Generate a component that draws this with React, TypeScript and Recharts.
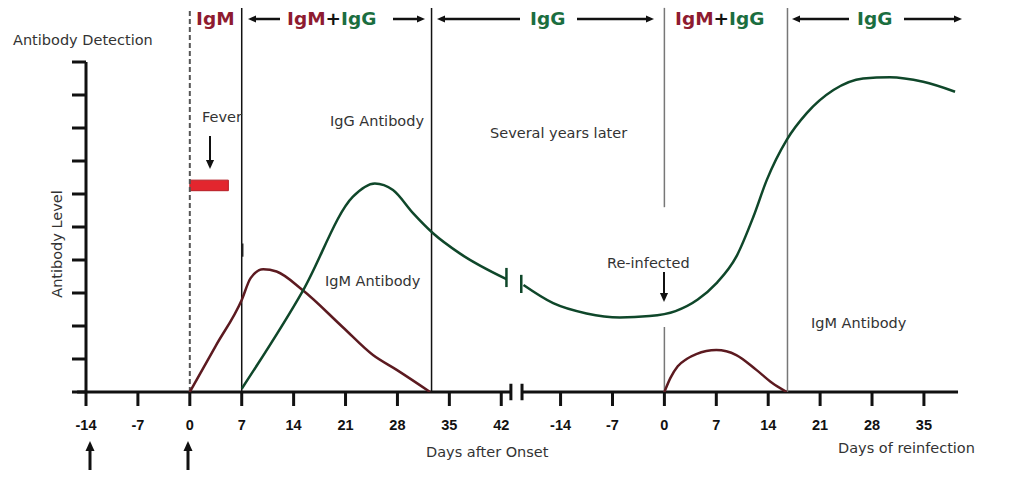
import { ComposedChart, Line, XAxis, YAxis, ReferenceLine, ReferenceArea } from "recharts";

/* ── x position: days after onset; reinfection period shifted by 64 ── */
const REINFECT_SHIFT = 64;

const X_TICKS = [-14, -7, 0, 7, 14, 21, 28, 35, 42, 50, 57, 64, 71, 78, 85, 92, 99];
const Y_TICKS = [0, 1, 2, 3, 4, 5, 6, 7, 8, 9, 10];

// primary infection (days after onset)
const IGM_PRIMARY_DAYS = [0, 3.5, 7, 8.2, 9.9, 11.7, 15.2, 20.6, 24.7, 27.9, 32.4];
const IGM_PRIMARY_LEVEL = [0, 1.4, 2.79, 3.45, 3.72, 3.65, 3.09, 1.97, 1.12, 0.67, 0];

const IGG_PRIMARY_DAYS = [7, 15.3, 22, 24.95, 27.4, 30.1, 32.8, 36.4, 42.7];
const IGG_PRIMARY_LEVEL = [0.1, 3.09, 5.92, 6.32, 6.12, 5.42, 4.81, 4.2, 3.42];

// reinfection (days of reinfection)
const IGG_REINFECT_DAYS = [-19, -15, -10.5, -6, -2, 1.5, 4.5, 7, 9.7, 12, 13.8, 16.5, 19.2, 22.8, 26.8, 30.4, 34.9, 39.2];
const IGG_REINFECT_LEVEL = [3.24, 2.69, 2.38, 2.26, 2.3, 2.45, 2.8, 3.29, 4.1, 5.31, 6.42, 7.64, 8.45, 9.15, 9.5, 9.54, 9.4, 9.1];

const IGM_REINFECT_DAYS = [0, 0.8, 1.8, 3, 4.3, 7, 9.7, 12.4, 14.5, 16.5];
const IGM_REINFECT_LEVEL = [0, 0.42, 0.78, 1.0, 1.15, 1.27, 1.12, 0.67, 0.28, 0];

// phase dividers (x positions) and fever bar
const DIVIDERS_PRIMARY = [7, 32.6];
const DIVIDERS_REINFECT = [0, 16.6];
const FEVER = { from: 0, to: 5.2, low: 6.1, high: 6.42 };

const IGM_COLOR = "#5c1a20";
const IGG_COLOR = "#0f472a";
const IGM_TEXT = "#8e1b30";
const IGG_TEXT = "#1b6e3f";
const FONT = "'DejaVu Sans', Verdana, sans-serif";
const TOP = 11.64;

function build(days: number[], levels: number[], shift = 0) {
  return days.map((d, i) => ({ u: d + shift, v: levels[i] }));
}

const igmPrimary = build(IGM_PRIMARY_DAYS, IGM_PRIMARY_LEVEL);
const iggPrimary = build(IGG_PRIMARY_DAYS, IGG_PRIMARY_LEVEL);
const iggReinfect = build(IGG_REINFECT_DAYS, IGG_REINFECT_LEVEL, REINFECT_SHIFT);
const igmReinfect = build(IGM_REINFECT_DAYS, IGM_REINFECT_LEVEL, REINFECT_SHIFT);

const tickLabel = (u: number) => String(u >= 50 ? u - REINFECT_SHIFT : u);

function Arrow({ x1, y1, x2, y2, w = 2.5, head = 8 }: { x1: number; y1: number; x2: number; y2: number; w?: number; head?: number }) {
  const a = Math.atan2(y2 - y1, x2 - x1);
  const bx = x2 - Math.cos(a) * head;
  const by = y2 - Math.sin(a) * head;
  const hw = head * 0.45;
  const px = -Math.sin(a) * hw;
  const py = Math.cos(a) * hw;
  return (
    <g>
      <line x1={x1} y1={y1} x2={bx} y2={by} stroke="#111" strokeWidth={w} />
      <polygon points={`${x2},${y2} ${bx + px},${by + py} ${bx - px},${by - py}`} fill="#111" />
    </g>
  );
}

function Overlay() {
  const small = { fontFamily: FONT, fontSize: 14.5, fill: "#333" };
  const head = { fontFamily: FONT, fontSize: 18.5, fontWeight: 700 };
  return (
    <svg width={1024} height={494} style={{ position: "absolute", left: 0, top: 0, pointerEvents: "none" }}>
      {/* header */}
      <text x={196} y={25} {...head} fill={IGM_TEXT}>IgM</text>
      <Arrow x1={280} y1={19} x2={248} y2={19} />
      <text x={287} y={25} {...head}>
        <tspan fill={IGM_TEXT}>IgM</tspan><tspan fill="#111">+</tspan><tspan fill={IGG_TEXT}>IgG</tspan>
      </text>
      <Arrow x1={393} y1={19} x2={425} y2={19} />
      <Arrow x1={520} y1={19} x2={437} y2={19} />
      <text x={530} y={25} {...head} fill={IGG_TEXT}>IgG</text>
      <Arrow x1={577} y1={19} x2={654} y2={19} />
      <text x={675} y={25} {...head}>
        <tspan fill={IGM_TEXT}>IgM</tspan><tspan fill="#111">+</tspan><tspan fill={IGG_TEXT}>IgG</tspan>
      </text>
      <Arrow x1={849} y1={19} x2={792} y2={19} />
      <text x={857} y={25} {...head} fill={IGG_TEXT}>IgG</text>
      <Arrow x1={904} y1={19} x2={962} y2={19} />

      {/* annotations */}
      <text x={13} y={45} {...small}>Antibody Detection</text>
      <text transform="translate(62,244) rotate(-90)" textAnchor="middle" {...small}>Antibody Level</text>
      <text x={202} y={122} {...small}>Fever</text>
      <Arrow x1={210} y1={136} x2={210} y2={169} w={2} head={9} />
      <text x={330} y={126} {...small}>IgG Antibody</text>
      <text x={325} y={286} {...small}>IgM Antibody</text>
      <text x={490} y={138} {...small}>Several years later</text>
      <text x={607} y={268} {...small}>Re-infected</text>
      <Arrow x1={664} y1={272} x2={664} y2={302} w={2} head={9} />
      <text x={811} y={328} {...small}>IgM Antibody</text>
      <text x={426} y={457} {...small}>Days after Onset</text>
      <text x={838} y={453} {...small}>Days of reinfection</text>
      <Arrow x1={90} y1={470} x2={90} y2={441} w={3} head={10} />
      <Arrow x1={188} y1={470} x2={188} y2={441} w={3} head={10} />
    </svg>
  );
}

export default function App() {
  return (
    <div style={{ position: "absolute", left: 0, top: 0, width: 1024, height: 494, background: "#fff" }}>
      <ComposedChart width={1024} height={494} margin={{ top: 62, right: 63, bottom: 0, left: 66 }}>
        <XAxis
          dataKey="u"
          type="number"
          domain={[-14, 104]}
          ticks={X_TICKS}
          tickFormatter={tickLabel}
          axisLine={false}
          tickLine={{ stroke: "#111", strokeWidth: 3 }}
          tickSize={14}
          tickMargin={14}
          height={102}
          interval={0}
          allowDataOverflow
          tick={{ fontFamily: "'Liberation Sans', Arial, sans-serif", fontWeight: 700, fontSize: 14.5, fill: "#111" }}
        />
        <YAxis
          type="number"
          domain={[0, 10]}
          ticks={Y_TICKS}
          width={20}
          tickSize={14}
          tickFormatter={() => ""}
          axisLine={{ stroke: "#111", strokeWidth: 3 }}
          tickLine={{ stroke: "#111", strokeWidth: 3 }}
          interval={0}
          allowDataOverflow
        />

        {/* broken x axis */}
        <ReferenceLine segment={[{ x: -15.2, y: 0 }, { x: 43.3, y: 0 }]} stroke="#111" strokeWidth={3} ifOverflow="visible" />
        <ReferenceLine segment={[{ x: 44.8, y: 0 }, { x: 103.6, y: 0 }]} stroke="#111" strokeWidth={3} ifOverflow="visible" />
        <ReferenceLine segment={[{ x: 43.3, y: -0.25 }, { x: 43.3, y: 0.25 }]} stroke="#111" strokeWidth={3} ifOverflow="visible" />
        <ReferenceLine segment={[{ x: 44.8, y: -0.25 }, { x: 44.8, y: 0.25 }]} stroke="#111" strokeWidth={3} ifOverflow="visible" />

        {/* phase dividers */}
        <ReferenceLine segment={[{ x: 0, y: 0 }, { x: 0, y: TOP }]} stroke="#555" strokeWidth={2} strokeDasharray="5 3" ifOverflow="visible" />
        {DIVIDERS_PRIMARY.map((d) => (
          <ReferenceLine key={d} segment={[{ x: d, y: 0 }, { x: d, y: TOP }]} stroke="#111" strokeWidth={1.5} ifOverflow="visible" />
        ))}
        <ReferenceLine segment={[{ x: REINFECT_SHIFT + DIVIDERS_REINFECT[0], y: 0 }, { x: REINFECT_SHIFT + DIVIDERS_REINFECT[0], y: 1.97 }]} stroke="#777" strokeWidth={1.5} ifOverflow="visible" />
        <ReferenceLine segment={[{ x: REINFECT_SHIFT + DIVIDERS_REINFECT[0], y: 5.6 }, { x: REINFECT_SHIFT + DIVIDERS_REINFECT[0], y: TOP }]} stroke="#777" strokeWidth={1.5} ifOverflow="visible" />
        <ReferenceLine segment={[{ x: REINFECT_SHIFT + DIVIDERS_REINFECT[1], y: 0 }, { x: REINFECT_SHIFT + DIVIDERS_REINFECT[1], y: TOP }]} stroke="#777" strokeWidth={1.5} ifOverflow="visible" />
        <ReferenceLine segment={[{ x: 7.1, y: 4.1 }, { x: 7.1, y: 4.5 }]} stroke="#222" strokeWidth={2} ifOverflow="visible" />

        {/* fever */}
        <ReferenceArea x1={FEVER.from} x2={FEVER.to} y1={FEVER.low} y2={FEVER.high} fill="#e3262e" fillOpacity={1} stroke="#b51d24" strokeWidth={1} ifOverflow="visible" />

        {/* antibody curves */}
        <Line data={igmPrimary} dataKey="v" type="monotone" stroke={IGM_COLOR} strokeWidth={2.5} dot={false} isAnimationActive={false} />
        <Line data={iggPrimary} dataKey="v" type="monotone" stroke={IGG_COLOR} strokeWidth={2.5} dot={false} isAnimationActive={false} />
        <Line data={iggReinfect} dataKey="v" type="monotone" stroke={IGG_COLOR} strokeWidth={2.5} dot={false} isAnimationActive={false} />
        <Line data={igmReinfect} dataKey="v" type="monotone" stroke={IGM_COLOR} strokeWidth={2.5} dot={false} isAnimationActive={false} />

        {/* curve break marks */}
        <ReferenceLine segment={[{ x: 42.7, y: 3.18 }, { x: 42.7, y: 3.76 }]} stroke={IGG_COLOR} strokeWidth={2.5} ifOverflow="visible" />
        <ReferenceLine segment={[{ x: 44.7, y: 3.0 }, { x: 44.7, y: 3.55 }]} stroke={IGG_COLOR} strokeWidth={2.5} ifOverflow="visible" />
      </ComposedChart>
      <Overlay />
    </div>
  );
}
